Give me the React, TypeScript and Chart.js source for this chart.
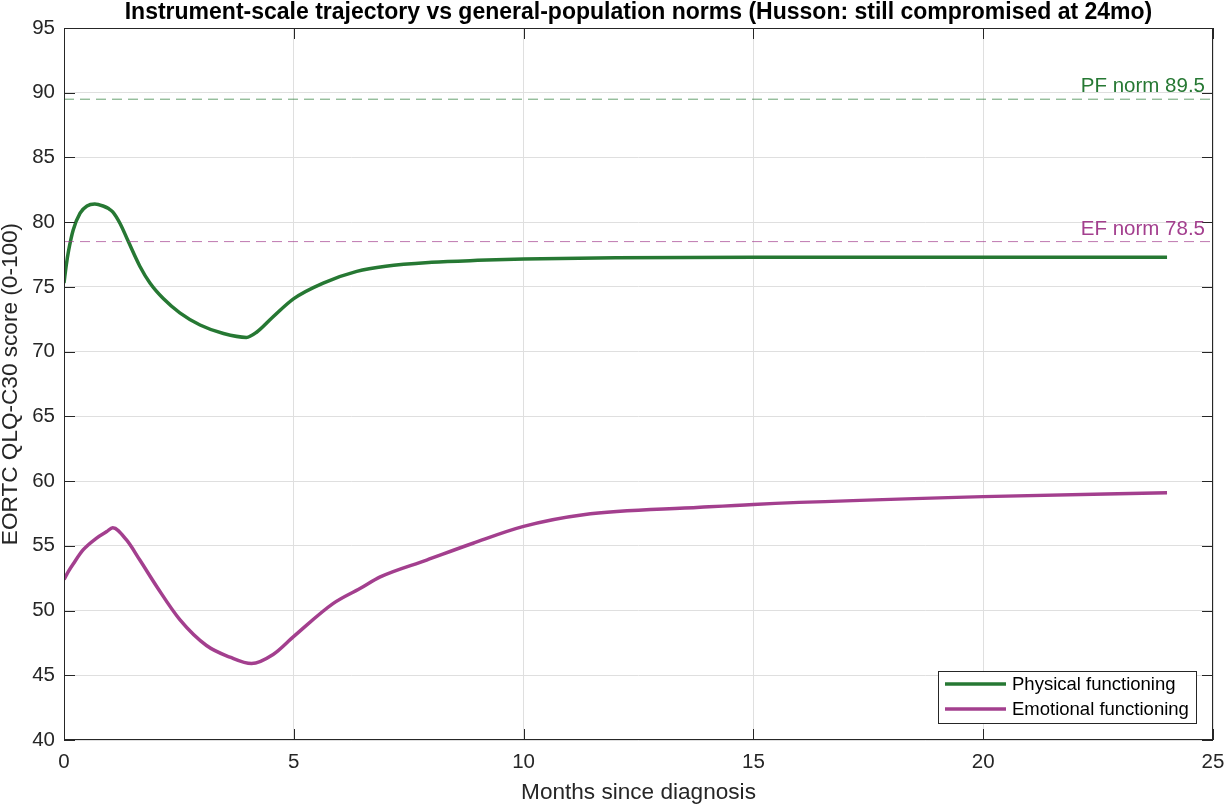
import React, { useEffect, useRef } from "react";
import { Chart, registerables } from "chart.js";

Chart.register(...registerables);

const TITLE = "Instrument-scale trajectory vs general-population norms (Husson: still compromised at 24mo)";
const X_LABEL = "Months since diagnosis";
const Y_LABEL = "EORTC QLQ-C30 score (0-100)";

const pfMonths = [0, 0.05, 0.1, 0.2, 0.35, 0.5, 0.67, 0.85, 0.97, 1.06, 1.22, 1.4, 1.65, 1.87, 2.16, 2.52, 2.96, 3.47, 3.97, 4.19, 4.55, 5.0, 5.64, 6.37, 7, 8, 9, 10, 12, 15, 20, 24];
const pfScores = [75.3, 76.7, 77.8, 79.4, 80.7, 81.25, 81.4, 81.25, 81.05, 80.8, 79.9, 78.5, 76.6, 75.3, 74.1, 73.0, 72.06, 71.4, 71.1, 71.5, 72.7, 74.1, 75.3, 76.2, 76.6, 76.9, 77.05, 77.15, 77.25, 77.3, 77.3, 77.3];

const efMonths = [0, 0.1, 0.2, 0.42, 0.71, 0.93, 1.06, 1.36, 1.65, 2.02, 2.52, 3.1, 3.61, 4.08, 4.55, 5.0, 5.86, 6.44, 6.88, 7.89, 8.9, 10, 11.3, 13.84, 15, 20, 24];
const efScores = [52.4, 53.05, 53.6, 54.7, 55.6, 56.1, 56.4, 55.45, 53.9, 51.84, 49.3, 47.3, 46.4, 45.9, 46.6, 48.0, 50.55, 51.7, 52.6, 53.9, 55.2, 56.5, 57.4, 57.97, 58.2, 58.8, 59.1];

const normMonths = [0, 25];
const pfNorm = 89.5;
const efNorm = 78.5;

const seriesNames = ["Physical functioning", "Emotional functioning"];
const normLabels = ["PF norm 89.5", "EF norm 78.5"];

const PF_COLOR = "#267833";
const EF_COLOR = "#a33f8e";
const PF_DASH = "rgba(38,120,51,0.7)";
const EF_DASH = "rgba(163,63,142,0.7)";
const FONT = "'Liberation Sans', Arial, Helvetica, sans-serif";
const TXT = "#262626";

const pts = (xs: number[], ys: number[]) => xs.map((x, i) => ({ x, y: ys[i] }));

const decorPlugin = {
  id: "decor",
  afterDraw(chart: any) {
    const { ctx, chartArea: a, scales } = chart;
    const xs = scales.x;
    const ys = scales.y;
    ctx.save();
    // title
    ctx.fillStyle = "#000";
    ctx.font = `bold 23px ${FONT}`;
    ctx.textAlign = "center";
    ctx.textBaseline = "middle";
    ctx.fillText(TITLE, (a.left + a.right) / 2, 13);

    // box
    ctx.strokeStyle = TXT;
    ctx.lineWidth = 1;
    ctx.strokeRect(a.left + 0.5, a.top + 0.5, a.right - a.left - 1, a.bottom - a.top - 1);
    // inward ticks
    const tl = 11;
    ctx.beginPath();
    xs.ticks.forEach((t: any) => {
      const px = Math.round(xs.getPixelForValue(t.value)) + 0.5;
      ctx.moveTo(px, a.bottom);
      ctx.lineTo(px, a.bottom - tl);
      ctx.moveTo(px, a.top);
      ctx.lineTo(px, a.top + tl);
    });
    ys.ticks.forEach((t: any) => {
      const py = Math.round(ys.getPixelForValue(t.value)) + 0.5;
      ctx.moveTo(a.left, py);
      ctx.lineTo(a.left + tl, py);
      ctx.moveTo(a.right, py);
      ctx.lineTo(a.right - tl, py);
    });
    ctx.stroke();

    // norm labels
    ctx.font = `20.5px ${FONT}`;
    ctx.textAlign = "right";
    ctx.textBaseline = "alphabetic";
    ctx.fillStyle = PF_COLOR;
    ctx.fillText(normLabels[0], a.right - 8, ys.getPixelForValue(pfNorm) - 7);
    ctx.fillStyle = EF_COLOR;
    ctx.fillText(normLabels[1], a.right - 8, ys.getPixelForValue(efNorm) - 7);

    // legend
    const bx = a.right - 275;
    const by = a.bottom - 69;
    const bw = 258;
    const bh = 52;
    ctx.fillStyle = "#fff";
    ctx.fillRect(bx, by, bw, bh);
    ctx.strokeStyle = TXT;
    ctx.lineWidth = 1;
    ctx.strokeRect(bx + 0.5, by + 0.5, bw, bh);
    const rows = [
      { name: seriesNames[0], color: PF_COLOR },
      { name: seriesNames[1], color: EF_COLOR },
    ];
    ctx.font = `18.5px ${FONT}`;
    ctx.textAlign = "left";
    ctx.textBaseline = "middle";
    rows.forEach((r, i) => {
      const yy = by + 13 + i * 25;
      ctx.strokeStyle = r.color;
      ctx.lineWidth = 3.5;
      ctx.beginPath();
      ctx.moveTo(bx + 7, yy);
      ctx.lineTo(bx + 68, yy);
      ctx.stroke();
      ctx.fillStyle = "#000";
      ctx.fillText(r.name, bx + 74, yy + 1);
    });
    ctx.restore();
  },
};

export default function App() {
  const ref = useRef<HTMLCanvasElement | null>(null);
  useEffect(() => {
    document.body.style.margin = "0";
    const cv = ref.current;
    if (!cv) return;
    const chart = new Chart(cv, {
      type: "line",
      data: {
        datasets: [
          {
            label: "PF norm",
            data: pts(normMonths, normMonths.map(() => pfNorm)),
            borderColor: PF_DASH,
            borderWidth: 1,
            borderDash: [10, 6],
            pointRadius: 0,
          },
          {
            label: "EF norm",
            data: pts(normMonths, normMonths.map(() => efNorm)),
            borderColor: EF_DASH,
            borderWidth: 1,
            borderDash: [10, 6],
            pointRadius: 0,
          },
          {
            label: seriesNames[0],
            data: pts(pfMonths, pfScores),
            borderColor: PF_COLOR,
            borderWidth: 3.5,
            pointRadius: 0,
            cubicInterpolationMode: "monotone",
          },
          {
            label: seriesNames[1],
            data: pts(efMonths, efScores),
            borderColor: EF_COLOR,
            borderWidth: 3.5,
            pointRadius: 0,
            cubicInterpolationMode: "monotone",
          },
        ],
      },
      options: {
        animation: false,
        responsive: false,
        maintainAspectRatio: false,
        layout: { padding: { top: 28, right: 14, left: 0, bottom: 0 } },
        plugins: { legend: { display: false }, title: { display: false }, tooltip: { enabled: false } },
        scales: {
          x: {
            type: "linear",
            min: 0,
            max: 25,
            afterFit: (s: any) => { s.height = 68; s.paddingLeft = 0; s.paddingRight = 0; },
            ticks: { stepSize: 5, color: TXT, font: { family: FONT, size: 20.5 }, padding: 10, maxRotation: 0 },
            grid: { color: "#dfdfdf", drawTicks: false, lineWidth: 1 },
            border: { display: false },
            title: { display: true, text: X_LABEL, color: TXT, font: { family: FONT, size: 22.6, lineHeight: 1 }, padding: { bottom: 4, top: 0 } },
          },
          y: {
            min: 40,
            max: 95,
            afterFit: (s: any) => { s.width = 64; s.paddingTop = 0; s.paddingBottom = 0; },
            ticks: { stepSize: 5, color: TXT, font: { family: FONT, size: 20.5 }, padding: 9 },
            grid: { color: "#dfdfdf", drawTicks: false, lineWidth: 1 },
            border: { display: false },
            title: { display: true, text: Y_LABEL, color: TXT, font: { family: FONT, size: 22.6, lineHeight: 1 }, padding: { top: -1, bottom: 0 } },
          },
        },
      },
      plugins: [decorPlugin],
    } as any);
    return () => chart.destroy();
  }, []);
  return <canvas ref={ref} width={1227} height={808} style={{ display: "block" }} />;
}
